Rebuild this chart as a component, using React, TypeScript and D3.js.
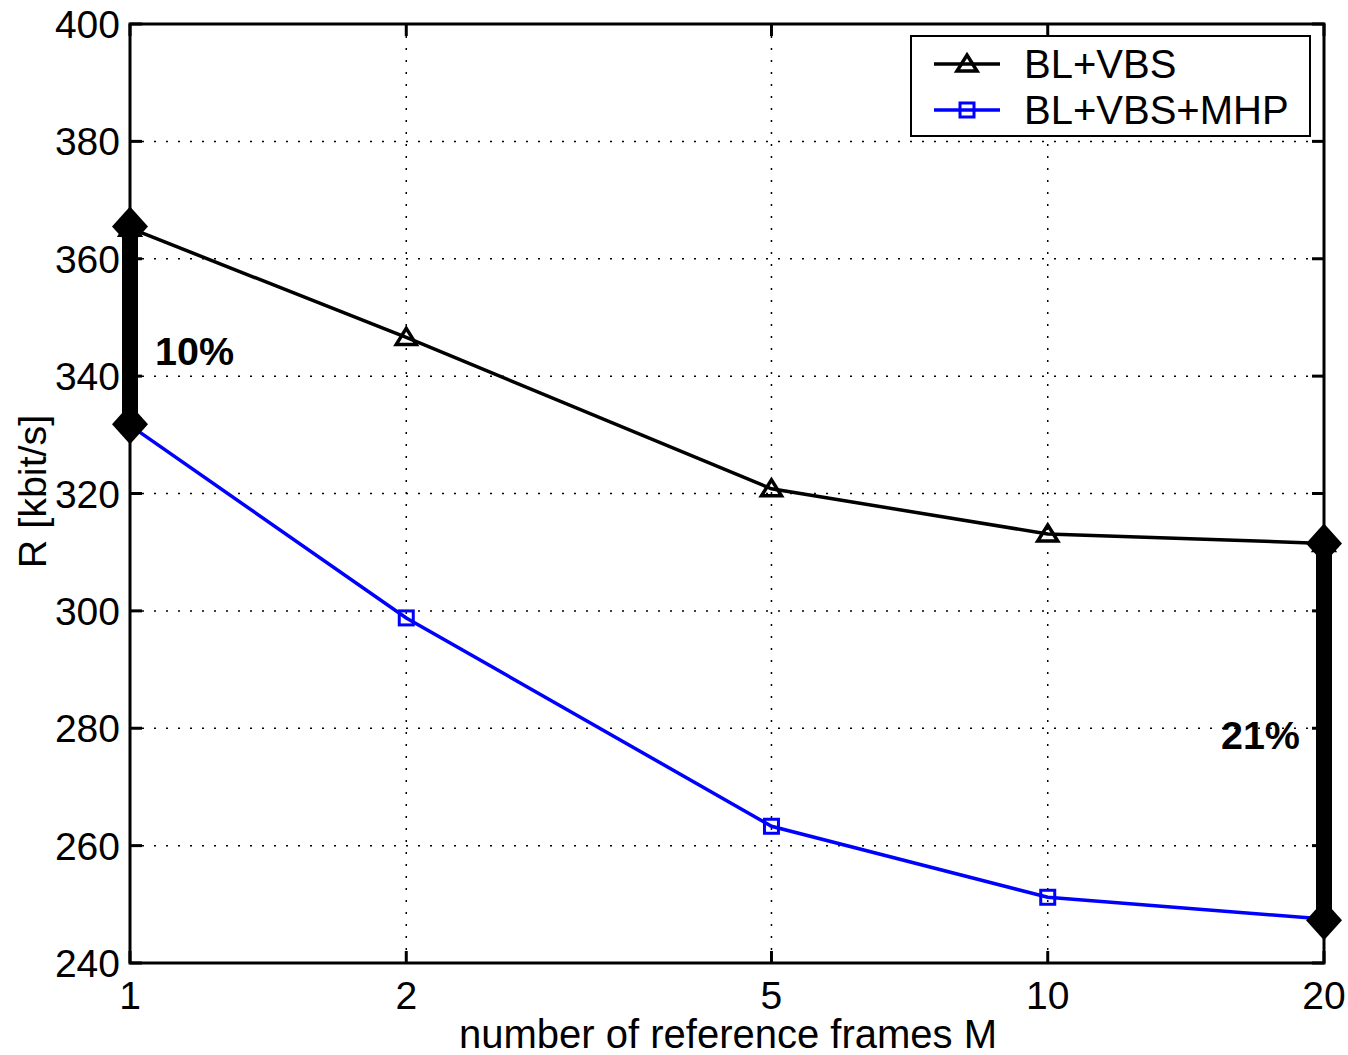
import React from "react";
import * as d3 from "d3";

const frames = [1, 2, 5, 10, 20];
const blVbs = [365.2, 346.6, 320.8, 313.1, 311.5];
const blVbsMhp = [331.6, 298.8, 263.3, 251.2, 247.5];
const yTicks = [240, 260, 280, 300, 320, 340, 360, 380, 400];
const gapLeft = { x: 1, top: 365.5, bottom: 331.8, label: "10%" };
const gapRight = { x: 20, top: 311.5, bottom: 247.3, label: "21%" };
const seriesNames = ["BL+VBS", "BL+VBS+MHP"];

const W = 1348;
const H = 1055;
const L = 130, R = 1324, T = 24, B = 963;
const FONT = "'Liberation Sans', Arial, Helvetica, sans-serif";

export default function App() {
  const x = d3.scaleLog().domain([1, 20]).range([L, R]);
  const y = d3.scaleLinear().domain([240, 400]).range([B, T]);
  const line = d3
    .line<number>()
    .x((_, i) => x(frames[i]))
    .y((d) => y(d));

  const tri = (cx: number, cy: number) =>
    `M${cx},${cy - 9} L${cx + 10},${cy + 7} L${cx - 10},${cy + 7} Z`;
  const diamond = (cx: number, cy: number) =>
    `M${cx},${cy - 20} L${cx + 18},${cy} L${cx},${cy + 20} L${cx - 18},${cy} Z`;

  const gridX = frames.filter((f) => f !== 1 && f !== 20);
  const gridY = yTicks.filter((t) => t !== 240 && t !== 400);

  const gap = (g: typeof gapLeft, labelX: number, labelY: number, anchor: string) => (
    <g>
      <line x1={x(g.x)} x2={x(g.x)} y1={y(g.top)} y2={y(g.bottom)} stroke="black" strokeWidth={16} />
      <path d={diamond(x(g.x), y(g.top))} fill="black" />
      <path d={diamond(x(g.x), y(g.bottom))} fill="black" />
      <text x={labelX} y={labelY} fontSize={39.5} fontWeight="bold" textAnchor={anchor} fontFamily={FONT}>
        {g.label}
      </text>
    </g>
  );

  return (
    <div style={{ position: "absolute", left: 0, top: 0 }}>
      <svg width={W} height={H} style={{ display: "block", background: "white" }}>
        <rect x={0} y={0} width={W} height={H} fill="white" />
        {/* grid */}
        {gridX.map((f) => (
          <line key={"gx" + f} x1={x(f)} x2={x(f)} y1={T} y2={B} stroke="black" strokeWidth={1.5} strokeDasharray="2,10" />
        ))}
        {gridY.map((t) => (
          <line key={"gy" + t} x1={L} x2={R} y1={y(t)} y2={y(t)} stroke="black" strokeWidth={1.5} strokeDasharray="2,10" />
        ))}
        {/* ticks */}
        {frames.map((f) => (
          <g key={"tx" + f}>
            <line x1={x(f)} x2={x(f)} y1={B} y2={B - 12} stroke="black" strokeWidth={3} />
            <line x1={x(f)} x2={x(f)} y1={T} y2={T + 12} stroke="black" strokeWidth={3} />
            <text x={x(f)} y={1009} fontSize={39} textAnchor="middle" fontFamily={FONT}>
              {f}
            </text>
          </g>
        ))}
        {yTicks.map((t) => (
          <g key={"ty" + t}>
            <line x1={L} x2={L + 12} y1={y(t)} y2={y(t)} stroke="black" strokeWidth={3} />
            <line x1={R} x2={R - 12} y1={y(t)} y2={y(t)} stroke="black" strokeWidth={3} />
            <text x={120} y={y(t) + 14} fontSize={39} textAnchor="end" fontFamily={FONT}>
              {t}
            </text>
          </g>
        ))}
        {/* box */}
        <rect x={L} y={T} width={R - L} height={B - T} fill="none" stroke="black" strokeWidth={3} />
        {/* series */}
        <path d={line(blVbs) || ""} fill="none" stroke="black" strokeWidth={3.5} />
        <path d={line(blVbsMhp) || ""} fill="none" stroke="#0000ff" strokeWidth={3.5} />
        {blVbs.map((v, i) => (
          <path key={"a" + i} d={tri(x(frames[i]), y(v))} fill="none" stroke="black" strokeWidth={3.5} />
        ))}
        {blVbsMhp.map((v, i) => (
          <rect key={"b" + i} x={x(frames[i]) - 7} y={y(v) - 7} width={14} height={14} fill="none" stroke="#0000ff" strokeWidth={3} />
        ))}
        {/* gap annotations */}
        {gap(gapLeft, 155, 365, "start")}
        {gap(gapRight, 1300, 749, "end")}
        {/* legend */}
        <rect x={911} y={36} width={399} height={100} fill="white" stroke="black" strokeWidth={2} />
        <line x1={934} x2={1000} y1={64} y2={64} stroke="black" strokeWidth={3.5} />
        <path d={tri(967, 64)} fill="none" stroke="black" strokeWidth={3.5} />
        <text x={1024} y={78} fontSize={40} fontFamily={FONT}>{seriesNames[0]}</text>
        <line x1={934} x2={1000} y1={110} y2={110} stroke="#0000ff" strokeWidth={3.5} />
        <rect x={960} y={103} width={14} height={14} fill="none" stroke="#0000ff" strokeWidth={3} />
        <text x={1024} y={124} fontSize={40} fontFamily={FONT}>{seriesNames[1]}</text>
        {/* axis labels */}
        <text x={728} y={1048} fontSize={40} textAnchor="middle" fontFamily={FONT}>
          number of reference frames M
        </text>
        <text transform={`translate(46,${(T + B) / 2 - 2}) rotate(-90)`} fontSize={39.5} textAnchor="middle" fontFamily={FONT}>
          R [kbit/s]
        </text>
      </svg>
    </div>
  );
}
